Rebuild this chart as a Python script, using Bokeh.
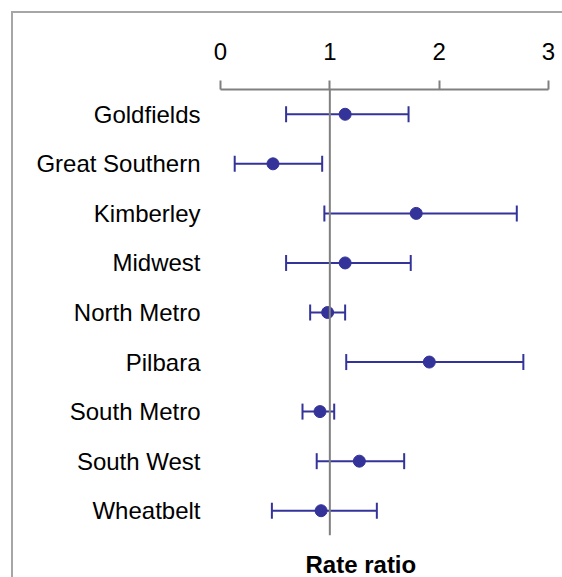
import numpy as np
from bokeh.plotting import figure
from bokeh.models import FactorRange, Range1d, FixedTicker, Span, Title
from bokeh.embed import file_html
from bokeh.resources import INLINE

regions = ["Goldfields", "Great Southern", "Kimberley", "Midwest", "North Metro",
           "Pilbara", "South Metro", "South West", "Wheatbelt"]
rate_ratio = [1.14, 0.48, 1.79, 1.14, 0.98, 1.91, 0.91, 1.27, 0.92]
ci_lower = [0.60, 0.13, 0.95, 0.60, 0.82, 1.15, 0.75, 0.88, 0.47]
ci_upper = [1.72, 0.93, 2.71, 1.74, 1.14, 2.77, 1.04, 1.68, 1.43]
x_ticks = [0, 1, 2, 3]

FONT = "Liberation Sans"
NAVY = "#333399"
GREY = "#808080"

p = figure(width=565, height=582, output_backend="svg", toolbar_location=None,
           x_range=Range1d(0, 3), y_range=FactorRange(factors=list(reversed(regions))),
           x_axis_location="above", min_border_left=207, min_border_right=30,
           min_border_top=76, min_border_bottom=60)
p.styles = {"margin-left": "13px", "margin-top": "13px",
            "box-shadow": "-2px -2px 0px 0px #a6a6a6"}
p.outline_line_color = None
p.xgrid.grid_line_color = None
p.ygrid.grid_line_color = None

xa = p.xaxis[0]
xa.ticker = FixedTicker(ticks=x_ticks)
xa.minor_tick_line_color = None
xa.axis_line_color = GREY
xa.axis_line_width = 2
xa.major_tick_line_color = GREY
xa.major_tick_line_width = 2
xa.major_tick_out = 9
xa.major_tick_in = 0
xa.major_label_text_font = FONT
xa.major_label_text_font_size = "24px"
xa.major_label_text_color = "black"
xa.major_label_standoff = 21

ya = p.yaxis[0]
ya.axis_line_color = None
ya.major_tick_line_color = None
ya.major_tick_out = 0
ya.major_tick_in = 0
ya.major_label_standoff = 20
ya.major_label_text_font = FONT
ya.major_label_text_font_size = "24px"
ya.major_label_text_color = "black"

p.add_layout(Span(location=1, dimension="height", line_color=GREY, line_width=2))

p.segment(x0=ci_lower, y0=regions, x1=ci_upper, y1=regions, line_color=NAVY, line_width=2)
p.scatter(x=ci_lower, y=regions, marker="dash", angle=np.pi / 2, size=16,
          line_color=NAVY, line_width=2)
p.scatter(x=ci_upper, y=regions, marker="dash", angle=np.pi / 2, size=16,
          line_color=NAVY, line_width=2)
p.scatter(x=rate_ratio, y=regions, marker="circle", size=12,
          fill_color=NAVY, line_color=NAVY)

p.add_layout(Title(text="Rate ratio", align="left", offset=85, text_font=FONT,
                   text_font_size="24px", text_font_style="bold", text_color="black",
                   standoff=26), "below")

open("out.html", "w").write(file_html(p, INLINE))
